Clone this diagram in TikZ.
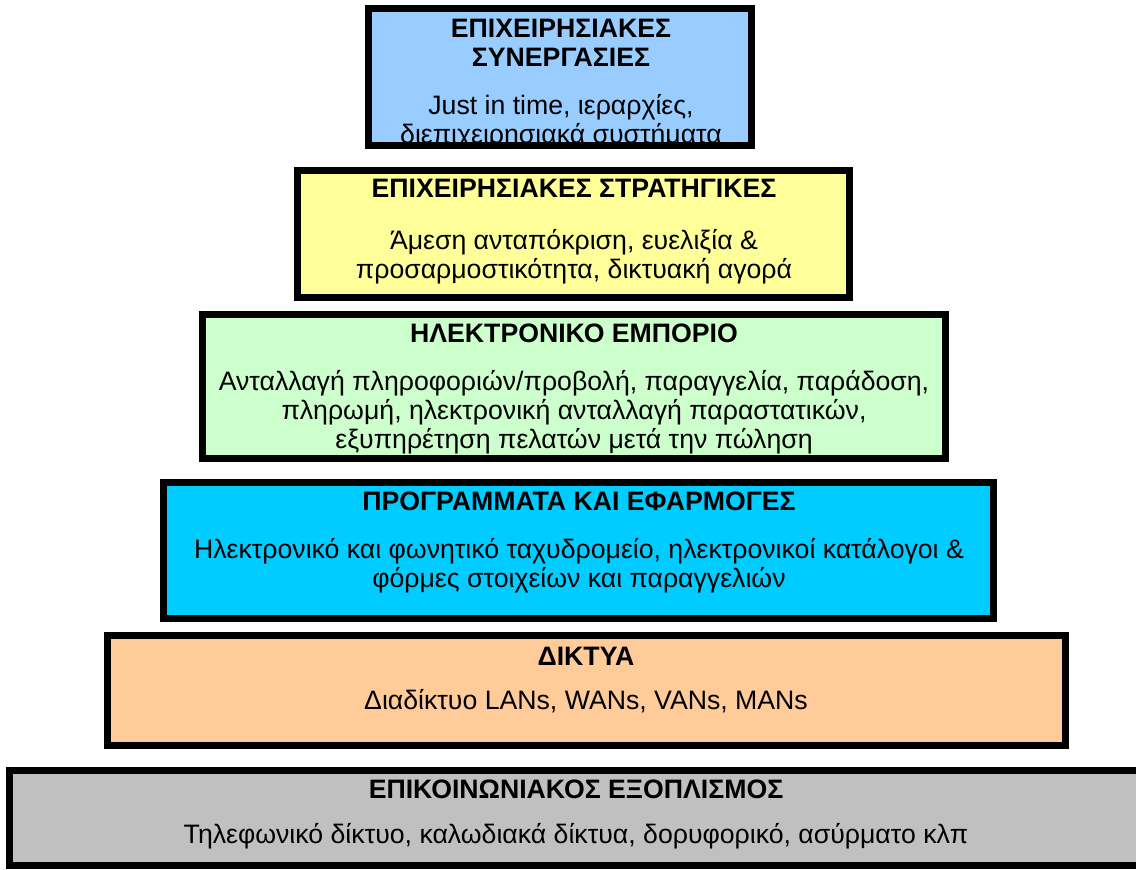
\documentclass[tikz,border=0pt]{standalone}
\usepackage{fontspec}
\setmainfont{Liberation Sans}
\usepackage{tikz}
\usetikzlibrary{positioning,calc}

\definecolor{synergyblue}{HTML}{99CCFF}
\definecolor{strategyyellow}{HTML}{FFFF99}
\definecolor{commercegreen}{HTML}{CCFFCC}
\definecolor{softwarecyan}{HTML}{00CCFF}
\definecolor{networkorange}{HTML}{FFCC99}
\definecolor{equipmentgrey}{HTML}{C0C0C0}

\tikzset{
    layer/.style={draw=black, line width=5pt},
    head/.style={font=\fontsize{20}{21.6}\selectfont\bfseries, align=center, inner sep=0pt},
    body/.style={font=\fontsize{20}{21.6}\selectfont, align=center, inner sep=0pt}
}

\begin{document}
\begin{tikzpicture}[x=0.75pt, y=-0.75pt]
    \useasboundingbox (0,0) rectangle (1136,870);

    % Business partnerships (top)
    \begin{scope}
        \clip (365,5) rectangle (755,149);
        \fill[synergyblue] (365,5) rectangle (755,149);
        \node[head] (synergyhead) at (561,43) {ΕΠΙΧΕΙΡΗΣΙΑΚΕΣ\\ΣΥΝΕΡΓΑΣΙΕΣ};
        \node[body] (synergytext) at (561,122) {Just in time, ιεραρχίες,\\διεπιχειρησιακά συστήματα};
    \end{scope}
    \draw[layer] (368.5,8.5) rectangle (751.5,145.5);

    % Business strategies
    \begin{scope}
        \clip (294,167) rectangle (853,301);
        \fill[strategyyellow] (294,167) rectangle (853,301);
        \node[head] (strategyhead) at (574,188) {ΕΠΙΧΕΙΡΗΣΙΑΚΕΣ ΣΤΡΑΤΗΓΙΚΕΣ};
        \node[body] (strategytext) at (574,257) {Άμεση ανταπόκριση, ευελιξία \&\\προσαρμοστικότητα, δικτυακή αγορά};
    \end{scope}
    \draw[layer] (297.5,170.5) rectangle (849.5,297.5);

    % Electronic commerce
    \begin{scope}
        \clip (199,311) rectangle (949,462);
        \fill[commercegreen] (199,311) rectangle (949,462);
        \node[head] (commercehead) at (574,333) {ΗΛΕΚΤΡΟΝΙΚΟ ΕΜΠΟΡΙΟ};
        \node[body] (commercetext) at (574,412) {Ανταλλαγή πληροφοριών/προβολή, παραγγελία, παράδοση,\\πληρωμή, ηλεκτρονική ανταλλαγή παραστατικών,\\εξυπηρέτηση πελατών μετά την πώληση};
    \end{scope}
    \draw[layer] (202.5,314.5) rectangle (945.5,458.5);

    % Programs and applications
    \begin{scope}
        \clip (160,479) rectangle (997,622);
        \fill[softwarecyan] (160,479) rectangle (997,622);
        \node[head] (softwarehead) at (579,501) {ΠΡΟΓΡΑΜΜΑΤΑ ΚΑΙ ΕΦΑΡΜΟΓΕΣ};
        \node[body] (softwaretext) at (579,566) {Ηλεκτρονικό και φωνητικό ταχυδρομείο, ηλεκτρονικοί κατάλογοι \&\\φόρμες στοιχείων και παραγγελιών};
    \end{scope}
    \draw[layer] (163.5,482.5) rectangle (993.5,618.5);

    % Networks
    \begin{scope}
        \clip (104,632) rectangle (1069,749);
        \fill[networkorange] (104,632) rectangle (1069,749);
        \node[head] (networkhead) at (586,656) {ΔΙΚΤΥΑ};
        \node[body] (networktext) at (586,701) {Διαδίκτυο LANs, WANs, VANs, MANs};
    \end{scope}
    \draw[layer] (107.5,635.5) rectangle (1065.5,745.5);

    % Communication equipment (bottom, runs off the right edge)
    \begin{scope}
        \clip (6,767) rectangle (1150,869);
        \fill[equipmentgrey] (6,767) rectangle (1150,869);
        \node[head] (equipmenthead) at (576,789) {ΕΠΙΚΟΙΝΩΝΙΑΚΟΣ ΕΞΟΠΛΙΣΜΟΣ};
        \node[body] (equipmenttext) at (576,836) {Τηλεφωνικό δίκτυο, καλωδιακά δίκτυα, δορυφορικό, ασύρματο κλπ};
    \end{scope}
    \draw[layer] (9.5,770.5) rectangle (1150,865.5);
\end{tikzpicture}
\end{document}
